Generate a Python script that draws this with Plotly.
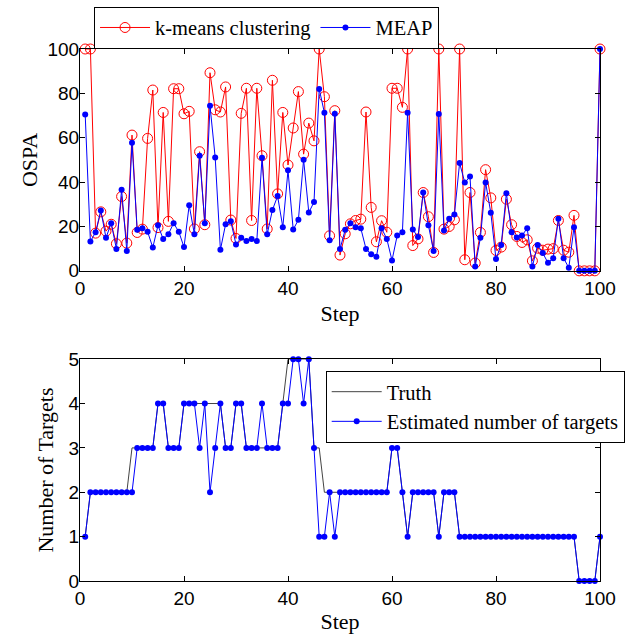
import plotly.graph_objects as go

steps = list(range(1, 101))

kmeans_ospa = [100, 100, 17, 26.6, 17.9, 21, 12.2, 33.5, 12.5, 61.2,
               17.3, 18.8, 59.7, 81.5, 19.5, 71.4, 22.3, 82.1, 82.1, 70.8,
               71.9, 18.9, 53.7, 20.8, 89.3, 72.6, 71.6, 82.9, 22.9, 14.6,
               71, 82.3, 22.7, 82.3, 51.9, 18.9, 85.9, 34.7, 71.4, 47.7,
               64.4, 80.8, 52.6, 66.6, 58.6, 100, 78.5, 15.8, 72.2, 7.1,
               16.7, 21.2, 22.7, 23.3, 71.6, 28.6, 13.1, 22.6, 17.4, 82.3,
               82.3, 73.7, 100, 11.4, 14.4, 35.3, 24.4, 8.3, 100, 18.8,
               20, 23, 100, 5, 35.3, 3.5, 17.3, 45.6, 32.9, 9.2,
               10.7, 32.3, 20.8, 15.5, 12.8, 14, 4.5, 10.2, 9.3, 9.8,
               10, 22.7, 9.3, 8.4, 25, 0, 0, 0, 0, 100]

meap_ospa = [70.5, 13.2, 17.4, 27.2, 14.9, 21.5, 9.9, 36.5, 9, 57.7,
             18.5, 19.2, 17.6, 10.5, 20.5, 14.3, 16.5, 21.5, 17.6, 10.7,
             29.6, 16.5, 51.9, 21.4, 74.4, 51.1, 9.5, 21, 22.3, 11.9,
             14.9, 13.4, 14.3, 13.4, 51, 16.5, 27.4, 33.7, 19.7, 45.3,
             18.6, 23, 50.1, 26.3, 31, 82, 71.3, 13.8, 70.8, 9.8,
             18.5, 21.5, 19.7, 19.2, 9.9, 7.5, 6.3, 19.2, 14.4, 4.7,
             15.9, 17.4, 71.3, 18.6, 15.3, 35.3, 20.5, 8.9, 70.7, 18.2,
             23.5, 25.4, 48.6, 39.8, 42.5, 2, 14.9, 39.8, 26.2, 5.3,
             11.7, 35, 17.4, 15, 15.9, 19.2, 2, 11.6, 8, 3.6,
             5.7, 23.5, 5.7, 1.4, 19.7, 0, 0, 0, 0, 100]

true_count = [1, 2, 2, 2, 2, 2, 2, 2, 2, 3,
              3, 3, 3, 3, 4, 4, 3, 3, 3, 4,
              4, 4, 4, 4, 4, 4, 4, 3, 3, 4,
              4, 3, 3, 3, 3, 3, 3, 3, 4, 5,
              5, 5, 5, 5, 3, 3, 2, 2, 2, 2,
              2, 2, 2, 2, 2, 2, 2, 2, 2, 3,
              3, 2, 1, 2, 2, 2, 2, 2, 1, 2,
              2, 2, 1, 1, 1, 1, 1, 1, 1, 1,
              1, 1, 1, 1, 1, 1, 1, 1, 1, 1,
              1, 1, 1, 1, 1, 0, 0, 0, 0, 1]

est_count = [1, 2, 2, 2, 2, 2, 2, 2, 2, 2,
             3, 3, 3, 3, 4, 4, 3, 3, 3, 4,
             4, 4, 3, 4, 2, 3, 4, 3, 3, 4,
             4, 3, 3, 3, 4, 3, 3, 3, 4, 4,
             5, 5, 4, 5, 3, 1, 1, 2, 1, 2,
             2, 2, 2, 2, 2, 2, 2, 2, 2, 3,
             3, 2, 1, 2, 2, 2, 2, 2, 1, 2,
             2, 2, 1, 1, 1, 1, 1, 1, 1, 1,
             1, 1, 1, 1, 1, 1, 1, 1, 1, 1,
             1, 1, 1, 1, 1, 0, 0, 0, 0, 1]

x_ticks = [0, 20, 40, 60, 80, 100]
ospa_ticks = [0, 20, 40, 60, 80, 100]
count_ticks = [0, 1, 2, 3, 4, 5]

SERIF = "Liberation Serif, Times New Roman, serif"
SANS = "Liberation Sans, Arial, sans-serif"

fig = go.Figure()

fig.add_trace(go.Scatter(
    x=steps, y=kmeans_ospa, mode="lines+markers", name="k-means clustering",
    line=dict(color="#ff0000", width=1),
    marker=dict(symbol="circle-open", size=10, color="#ff0000", line=dict(width=1)),
    cliponaxis=False, xaxis="x", yaxis="y", legend="legend"))
fig.add_trace(go.Scatter(
    x=steps, y=meap_ospa, mode="lines+markers", name="MEAP",
    line=dict(color="#0000ff", width=1),
    marker=dict(symbol="circle", size=6, color="#0000ff"),
    cliponaxis=False, xaxis="x", yaxis="y", legend="legend"))

fig.add_trace(go.Scatter(
    x=steps, y=true_count, mode="lines", name="Truth",
    line=dict(color="#444444", width=1),
    cliponaxis=False, xaxis="x2", yaxis="y2", legend="legend2"))
fig.add_trace(go.Scatter(
    x=steps, y=est_count, mode="lines+markers", name="Estimated number of targets",
    line=dict(color="#0000ff", width=1),
    marker=dict(symbol="circle", size=6, color="#0000ff"),
    cliponaxis=False, xaxis="x2", yaxis="y2", legend="legend2"))

axis_common = dict(
    showline=True, linecolor="black", linewidth=1, mirror="ticks",
    ticks="inside", ticklen=5, tickcolor="black", tickwidth=1,
    showgrid=False, zeroline=False,
    tickfont=dict(family=SANS, size=19, color="black"),
)
title_font = dict(family=SERIF, size=22, color="black")
legend_font = dict(family=SERIF, size=20.5, color="black")

fig.update_layout(
    width=636, height=635,
    margin=dict(l=80, r=36, t=49, b=54, autoexpand=False),
    paper_bgcolor="white", plot_bgcolor="white",
    xaxis=dict(domain=[0, 1], range=[0, 100], tickvals=x_ticks, anchor="y",
               ticklabelstandoff=0,
               title=dict(text="Step", font=title_font, standoff=7),
               **axis_common),
    yaxis=dict(domain=[0.583, 1], range=[0, 100], tickvals=ospa_ticks, anchor="x",
               ticklabelstandoff=-4,
               title=dict(text="OSPA", font=title_font, standoff=3),
               **axis_common),
    xaxis2=dict(domain=[0, 1], range=[0, 100], tickvals=x_ticks, anchor="y2",
                ticklabelstandoff=0,
                title=dict(text="Step", font=title_font, standoff=5),
                **axis_common),
    yaxis2=dict(domain=[0, 0.417], range=[0, 5], tickvals=count_ticks, anchor="x2",
                ticklabelstandoff=-4,
                title=dict(text="Number of Targets", font=title_font, standoff=8),
                **axis_common),
    legend=dict(orientation="h", x=0.027, y=1.0796, xanchor="left", yanchor="top",
                bordercolor="black", borderwidth=1, bgcolor="white",
                font=legend_font, itemwidth=50, tracegroupgap=0),
    legend2=dict(orientation="v", x=0.4725, y=0.395, xanchor="left", yanchor="top",
                 bordercolor="black", borderwidth=1, bgcolor="white",
                 font=legend_font, itemwidth=50, tracegroupgap=0),
    showlegend=True,
)

fig.write_html("out.html")
